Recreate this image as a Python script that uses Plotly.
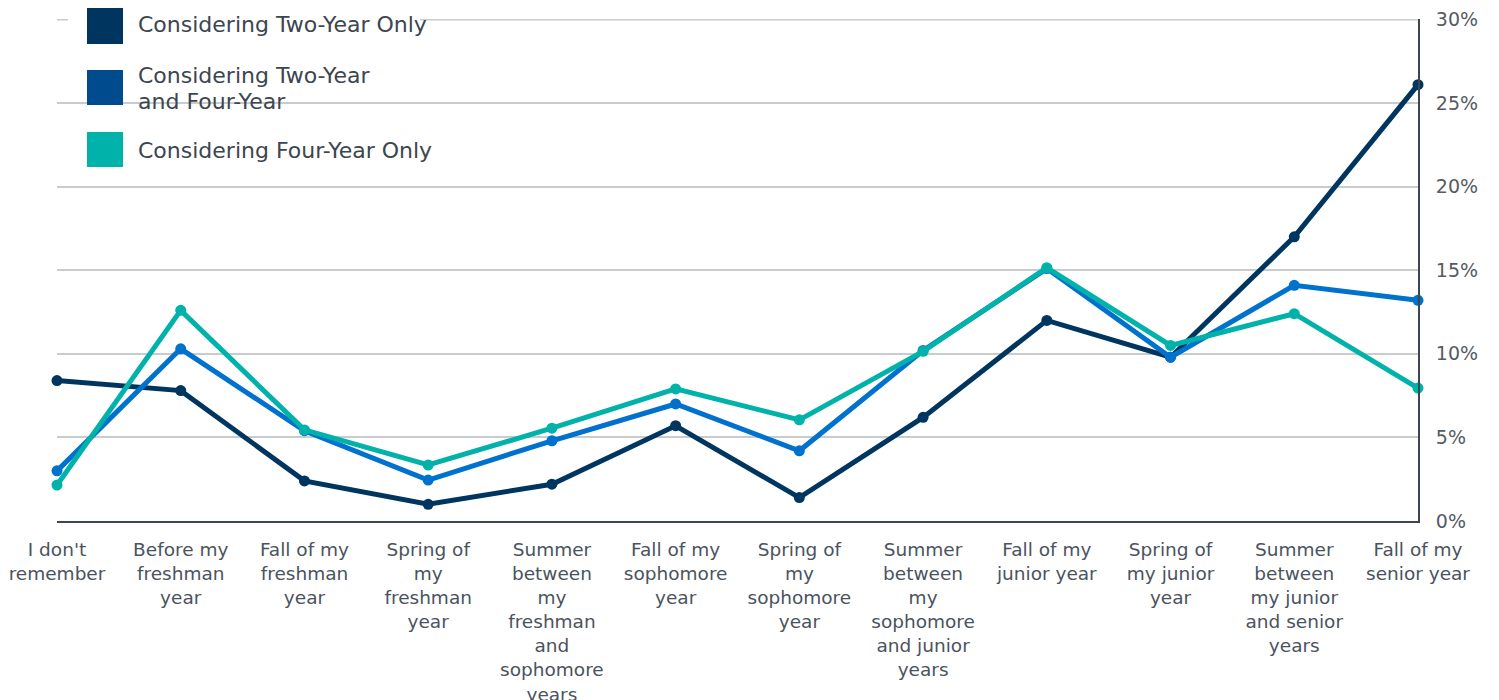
import plotly.graph_objects as go

categories = [
    "I don't<br>remember",
    "Before my<br>freshman<br>year",
    "Fall of my<br>freshman<br>year",
    "Spring of<br>my<br>freshman<br>year",
    "Summer<br>between<br>my<br>freshman<br>and<br>sophomore<br>years",
    "Fall of my<br>sophomore<br>year",
    "Spring of<br>my<br>sophomore<br>year",
    "Summer<br>between<br>my<br>sophomore<br>and junior<br>years",
    "Fall of my<br>junior year",
    "Spring of<br>my junior<br>year",
    "Summer<br>between<br>my junior<br>and senior<br>years",
    "Fall of my<br>senior year",
]

two_year_only = [8.4, 7.8, 2.4, 1.0, 2.2, 5.7, 1.4, 6.2, 12.0, 9.8, 17.0, 26.1]
two_and_four_year = [3.0, 10.3, 5.4, 2.45, 4.8, 7.0, 4.2, 10.2, 15.1, 9.8, 14.1, 13.2]
four_year_only = [2.15, 12.6, 5.45, 3.35, 5.55, 7.9, 6.05, 10.15, 15.15, 10.5, 12.4, 7.95]

series_names = ["Considering Two-Year Only", "Considering Two-Year and Four-Year", "Considering Four-Year Only"]
legend_lines = [["Considering Two-Year Only"], ["Considering Two-Year", "and Four-Year"], ["Considering Four-Year Only"]]
line_colors = ["#00355F", "#0072CE", "#00B2A9"]
legend_colors = ["#00355F", "#004B8D", "#00B2A9"]
y_ticks = [0, 5, 10, 15, 20, 25, 30]

FONT = "DejaVu Sans, Verdana, sans-serif"
TXT = "#4a535e"
GRID = "#c9cccf"

# page body has an 8px default margin; compensate
OFF = 8
W, H = 1499 - OFF, 700 - OFF
Lr, Rr, Tr, Br = 57, 1418, 19, 521  # plot area in screenshot pixels

x_idx = list(range(len(categories)))

fig = go.Figure()
for name, vals, col in zip(series_names, [two_year_only, two_and_four_year, four_year_only], line_colors):
    fig.add_trace(go.Scatter(
        x=x_idx, y=vals, mode="lines+markers", name=name,
        line=dict(color=col, width=5),
        marker=dict(color=col, size=11),
        cliponaxis=False, showlegend=False,
    ))

def px_x(p):
    return (p - Lr) / (Rr - Lr)

def px_y(p):
    return (Br - p) / (Br - Tr)

shapes = []
# top gridline (edge of the range)
shapes.append(dict(type="line", xref="paper", yref="y", x0=0, x1=1, y0=y_ticks[-1], y1=y_ticks[-1],
                   line=dict(color=GRID, width=2), layer="between"))
# white box behind legend (hides gridlines)
shapes.append(dict(type="rect", xref="paper", yref="paper",
                   x0=px_x(68), x1=px_x(420), y0=px_y(181), y1=px_y(8),
                   fillcolor="white", line=dict(width=0), layer="between"))
shapes.append(dict(type="rect", xref="paper", yref="paper",
                   x0=px_x(109), x1=px_x(420), y0=px_y(191), y1=px_y(180),
                   fillcolor="white", line=dict(width=0), layer="between"))

sq = [(7, 44), (70, 105), (132, 167)]
text_y = [[25], [75, 102], [150]]
annotations = []
for (y0, y1), tys, col, lines in zip(sq, text_y, legend_colors, legend_lines):
    shapes.append(dict(type="rect", xref="paper", yref="paper",
                       x0=px_x(87), x1=px_x(123), y0=px_y(y1), y1=px_y(y0),
                       fillcolor=col, line=dict(width=0), layer="above"))
    for ty, txt in zip(tys, lines):
        annotations.append(dict(xref="paper", yref="paper", x=px_x(136), y=px_y(ty),
                                text=txt, showarrow=False, xanchor="left", yanchor="middle",
                                align="left", font=dict(family=FONT, size=22, color="#3c4550")))

fig.update_layout(
    width=W, height=H,
    margin=dict(l=Lr - OFF, r=W - (Rr - OFF), t=Tr - OFF, b=H - (Br - OFF), pad=0, autoexpand=False),
    paper_bgcolor="white", plot_bgcolor="white",
    showlegend=False,
    shapes=shapes, annotations=annotations,
    font=dict(family=FONT, size=18.5, color=TXT),
)
fig.update_xaxes(
    range=[0, len(categories) - 1], automargin=False,
    tickmode="array", tickvals=x_idx, ticktext=categories,
    showgrid=False, zeroline=False,
    showline=True, linecolor="#3d4650", linewidth=2,
    ticks="", ticklabelstandoff=11,
    tickfont=dict(family=FONT, size=18.5, color=TXT),
)
fig.update_yaxes(
    range=[0, 30.03], side="right", automargin=False,
    tickmode="array", tickvals=y_ticks, ticktext=[f"{v}%" for v in y_ticks],
    showgrid=True, gridcolor=GRID, gridwidth=2,
    zeroline=False,
    showline=True, linecolor="#3d4650", linewidth=2,
    ticks="", ticklabelstandoff=12,
    tickfont=dict(family=FONT, size=19, color="#555b63"),
)

fig.write_html("out.html")
